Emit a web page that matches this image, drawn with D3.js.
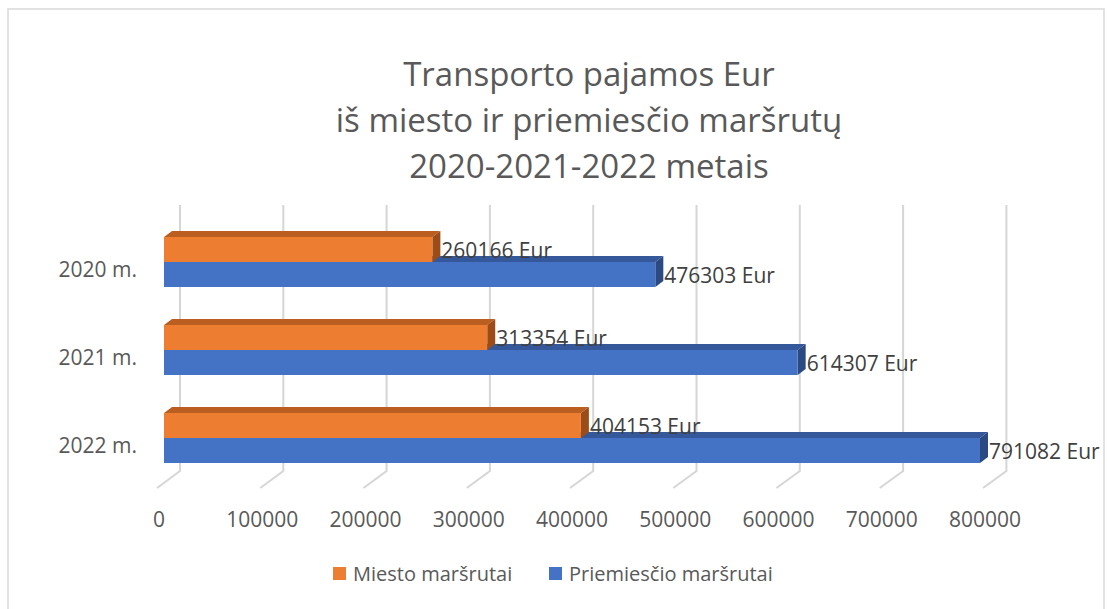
<!DOCTYPE html>
<html>
<head>
<meta charset="utf-8">
<script src="https://cdn.jsdelivr.net/npm/d3@7"></script>
<style>
  body { margin: 0; background: #fff; }
  svg { display: block; }
</style>
</head>
<body>
<svg></svg>
<script>
// Data
var categories = ['2020 m.', '2021 m.', '2022 m.'];
var seriesNames = ['Miesto maršrutai', 'Priemiesčio maršrutai'];
var miesto = [260166, 313354, 404153];
var priemiescio = [476303, 614307, 791082];
var xTicks = [0, 100000, 200000, 300000, 400000, 500000, 600000, 700000, 800000];
var titleLines = ['Transporto pajamos Eur', 'iš miesto ir priemiesčio maršrutų', '2020-2021-2022 metais'];

// Dimensions and formatting variables
var width = 1108;
var height = 609;
var font = "'Open Sans', sans-serif";
var textColor = '#595959';
var depthX = 8;
var depthY = -6;
var gridTop = 205;
var floorBack = 471;
var floorFront = 488;

var colors = {
  'Miesto maršrutai': { front: '#ED7D31', top: '#BA5F20', side: '#9C4D17' },
  'Priemiesčio maršrutai': { front: '#4472C4', top: '#35589A', side: '#2C4A82' }
};

var svg = d3.select('svg')
  .attr('width', width)
  .attr('height', height);

// Chart border
svg.append('rect')
  .attr('x', 8)
  .attr('y', 9)
  .attr('width', 1096)
  .attr('height', 700)
  .attr('fill', '#fff')
  .attr('stroke', '#d9d9d9')
  .attr('stroke-width', 1.5);

// Scales: front face of bars, back wall, and front edge of the floor
var xMax = 800000;
var xBar = d3.scaleLinear().domain([0, xMax]).range([164, 164 + 825.2]);
var xBack = d3.scaleLinear().domain([0, xMax]).range([180, 180 + 826.4]);
var xFloor = d3.scaleLinear().domain([0, xMax]).range([157, 157 + 826]);

var y = d3.scaleBand()
  .domain(categories)
  .range([218, 482])
  .paddingInner(38 / 88)
  .paddingOuter(19 / 88);

var ySeries = d3.scaleBand()
  .domain(seriesNames)
  .range([0, y.bandwidth()]);

// Title
svg.append('text')
  .attr('text-anchor', 'middle')
  .attr('font-family', font)
  .attr('font-size', 33)
  .attr('fill', textColor)
  .selectAll('tspan')
  .data(titleLines)
  .enter()
  .append('tspan')
    .attr('x', 589)
    .attr('y', function (d, i) { return 86 + i * 46; })
    .text(function (d) { return d; });

// Gridlines on back wall plus floor diagonals
var grid = svg.append('g')
  .attr('stroke', '#d6d6d6')
  .attr('stroke-width', 2)
  .attr('fill', 'none');

grid.selectAll('path')
  .data(xTicks)
  .enter()
  .append('path')
    .attr('d', function (d) {
      return 'M' + xBack(d) + ',' + gridTop +
        'L' + xBack(d) + ',' + floorBack +
        'L' + xFloor(d) + ',' + floorFront;
    });

// X axis labels
svg.append('g')
  .selectAll('text')
  .data(xTicks)
  .enter()
  .append('text')
    .attr('x', function (d) { return xFloor(d) + 2; })
    .attr('y', 527)
    .attr('text-anchor', 'middle')
    .attr('font-family', font)
    .attr('font-size', 21)
    .attr('fill', textColor)
    .text(function (d) { return d; });

// Category labels
svg.append('g')
  .selectAll('text')
  .data(categories)
  .enter()
  .append('text')
    .attr('x', 137)
    .attr('y', function (d) { return y(d) + y.bandwidth() / 2 + 15; })
    .attr('text-anchor', 'end')
    .attr('font-family', font)
    .attr('font-size', 21)
    .attr('fill', textColor)
    .text(function (d) { return d; });

// Build bar records (lower series drawn first so the upper one overlaps it)
var bars = [];
categories.forEach(function (c, i) {
  bars.push({ cat: c, series: seriesNames[1], value: priemiescio[i] });
  bars.push({ cat: c, series: seriesNames[0], value: miesto[i] });
});

var barG = svg.append('g')
  .selectAll('g')
  .data(bars)
  .enter()
  .append('g');

function box (d) {
  return {
    x0: xBar(0),
    x1: xBar(d.value),
    y0: y(d.cat) + ySeries(d.series),
    y1: y(d.cat) + ySeries(d.series) + ySeries.bandwidth()
  };
}

// Top face
barG.append('path')
  .attr('fill', function (d) { return colors[d.series].top; })
  .attr('d', function (d) {
    var b = box(d);
    return 'M' + b.x0 + ',' + b.y0 +
      'L' + (b.x0 + depthX) + ',' + (b.y0 + depthY) +
      'L' + (b.x1 + depthX) + ',' + (b.y0 + depthY) +
      'L' + b.x1 + ',' + b.y0 + 'Z';
  });

// Side face
barG.append('path')
  .attr('fill', function (d) { return colors[d.series].side; })
  .attr('d', function (d) {
    var b = box(d);
    return 'M' + b.x1 + ',' + b.y0 +
      'L' + (b.x1 + depthX) + ',' + (b.y0 + depthY) +
      'L' + (b.x1 + depthX) + ',' + (b.y1 + depthY) +
      'L' + b.x1 + ',' + b.y1 + 'Z';
  });

// Front face
barG.append('rect')
  .attr('fill', function (d) { return colors[d.series].front; })
  .attr('x', function (d) { return box(d).x0; })
  .attr('y', function (d) { return box(d).y0; })
  .attr('width', function (d) { return box(d).x1 - box(d).x0; })
  .attr('height', ySeries.bandwidth());

// Data labels
svg.append('g')
  .selectAll('text')
  .data(bars)
  .enter()
  .append('text')
    .attr('x', function (d) { return xBar(d.value) + depthX + 1; })
    .attr('y', function (d) { return box(d).y0 + ySeries.bandwidth() / 2 + 8; })
    .attr('font-family', font)
    .attr('font-size', 21)
    .attr('fill', '#404040')
    .text(function (d) { return d.value + ' Eur'; });

// Legend
var legendX = [333, 549];
var legend = svg.append('g')
  .selectAll('g')
  .data(seriesNames)
  .enter()
  .append('g')
    .attr('transform', function (d, i) { return 'translate(' + legendX[i] + ',567)'; });

legend.append('rect')
  .attr('width', 13)
  .attr('height', 13)
  .attr('fill', function (d) { return colors[d].front; });

legend.append('text')
  .attr('x', 20)
  .attr('y', 14)
  .attr('font-family', font)
  .attr('font-size', 20)
  .attr('fill', textColor)
  .text(function (d) { return d; });
</script>
</body>
</html>
